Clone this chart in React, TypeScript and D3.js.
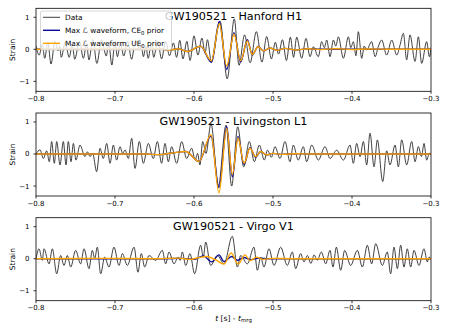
import React, { useEffect, useRef } from "react";
import * as d3 from "d3";

type Pt = [number, number];

// whitened strain as [t - t_mrg (s), strain]
const h1Data: Pt[] = [
  [-0.8, 0.1], [-0.796, -0.18], [-0.792, 0.15], [-0.789, -0.28], [-0.785, 0.22], [-0.781, -0.46],
  [-0.776, 0.25], [-0.772, -0.05], [-0.77, 0.1], [-0.768, -0.25], [-0.763, 0.22], [-0.758, -0.25],
  [-0.754, 0.15], [-0.751, -0.31], [-0.745, 0.25], [-0.74, -0.28], [-0.736, 0.18], [-0.733, -0.33],
  [-0.728, 0.3], [-0.723, -0.44], [-0.717, 0.3], [-0.711, -0.21], [-0.708, 0.2], [-0.704, -0.49],
  [-0.7, 0.25], [-0.697, -0.23], [-0.693, 0.2], [-0.689, -0.21], [-0.684, 0.25], [-0.679, -0.31],
  [-0.674, 0.28], [-0.669, 0.0], [-0.667, 0.15], [-0.664, -0.23], [-0.661, 0.1], [-0.658, -0.28],
  [-0.654, 0.2], [-0.651, -0.25], [-0.646, 0.25], [-0.641, -0.3], [-0.636, 0.25], [-0.631, -0.2],
  [-0.626, 0.2], [-0.622, -0.25], [-0.618, 0.28], [-0.614, -0.3], [-0.609, 0.25], [-0.605, -0.35],
  [-0.6, 0.42], [-0.595, -0.18], [-0.59, 0.35], [-0.586, -0.12], [-0.583, 0.3], [-0.578, -0.4],
  [-0.567, 0.88], [-0.558, -0.92], [-0.549, 0.95], [-0.543, -0.5], [-0.536, 0.45], [-0.529, -0.42],
  [-0.521, 0.55], [-0.514, -0.4], [-0.508, 0.4], [-0.502, -0.3], [-0.497, 0.22], [-0.493, -0.15],
  [-0.488, 0.3], [-0.483, -0.35], [-0.478, 0.38], [-0.474, -0.25], [-0.47, 0.38], [-0.4637, -0.28],
  [-0.4582, 0.34], [-0.4531, -0.23], [-0.4489, 0.08], [-0.4426, -0.23], [-0.4384, 0.24], [-0.435, 0.05],
  [-0.432, 0.29], [-0.4278, -0.23], [-0.4236, 0.29], [-0.4205, 0.1], [-0.4173, 0.39], [-0.4109, -0.28],
  [-0.4046, 0.39], [-0.4015, 0.05], [-0.3983, 0.24], [-0.395, -0.2], [-0.392, 0.55], [-0.3877, -0.28],
  [-0.3845, 0.1], [-0.3814, -0.02], [-0.3751, 0.24], [-0.3708, -0.23], [-0.3665, 0.1], [-0.3624, 0.29],
  [-0.3561, -0.18], [-0.3497, 0.29], [-0.3434, -0.18], [-0.339, 0.15], [-0.335, 0.5], [-0.3308, -0.33],
  [-0.3266, 0.45], [-0.3202, -0.38], [-0.316, 0.39], [-0.3118, -0.44], [-0.3055, 0.24], [-0.3021, -0.23],
  [-0.3, 0.05],
];

const l1Data: Pt[] = [
  [-0.8, 0.0], [-0.7949, 0.13], [-0.7907, -0.14], [-0.7865, 0.1], [-0.7831, -0.24], [-0.7802, 0.39],
  [-0.7768, -0.29], [-0.7738, 0.39], [-0.7696, -0.34], [-0.7654, 0.39], [-0.762, -0.34], [-0.7591, 0.39],
  [-0.7557, -0.24], [-0.7527, 0.33], [-0.7494, -0.19], [-0.7443, 0.28], [-0.738, -0.08], [-0.735, 0.07],
  [-0.7316, -0.08], [-0.7283, 0.02], [-0.7232, -0.55], [-0.719, 0.18], [-0.7148, -0.14], [-0.7105, 0.33],
  [-0.7063, -0.29], [-0.7021, 0.28], [-0.6979, -0.19], [-0.6937, 0.23], [-0.6903, 0.02], [-0.6873, 0.13],
  [-0.6831, -0.14], [-0.6789, 0.49], [-0.6747, -0.45], [-0.6692, 0.39], [-0.6641, -0.29], [-0.6578, 0.33],
  [-0.6515, -0.14], [-0.6464, 0.39], [-0.641, -0.29], [-0.6367, 0.33], [-0.6325, -0.24], [-0.6283, 0.23],
  [-0.6219, -0.29], [-0.6156, 0.39], [-0.6093, -0.14], [-0.603, 0.18], [-0.5985, -0.19], [-0.5955, 0.02],
  [-0.5925, -0.34], [-0.589, 0.39], [-0.5848, 0.02], [-0.5785, 0.95], [-0.5692, -1.0], [-0.5595, 0.9],
  [-0.5523, -1.0], [-0.5447, 0.85], [-0.5371, -0.4], [-0.53, 0.39], [-0.5236, -0.24], [-0.5173, 0.28],
  [-0.511, -0.19], [-0.507, 0.12], [-0.502, -0.1], [-0.4975, 0.23], [-0.4911, -0.14], [-0.4848, 0.39],
  [-0.4785, -0.24], [-0.4743, 0.28], [-0.468, -0.19], [-0.4616, 0.23], [-0.4574, -0.24], [-0.451, 0.28],
  [-0.4426, -0.19], [-0.4342, 0.23], [-0.4278, -0.14], [-0.4194, 0.12], [-0.4109, -0.19], [-0.4025, 0.28],
  [-0.3983, -0.29], [-0.3941, 0.33], [-0.3898, -0.08], [-0.3856, 0.39], [-0.3814, -0.34], [-0.3772, 0.65],
  [-0.3721, -0.4], [-0.3679, 0.44], [-0.3611, -0.86], [-0.3561, 0.1], [-0.3519, -0.34], [-0.3455, 0.28],
  [-0.3413, -0.4], [-0.3371, 0.44], [-0.3308, -0.34], [-0.3244, 0.39], [-0.3202, -0.24], [-0.316, 0.23],
  [-0.312, -0.08], [-0.3088, 0.33], [-0.3055, -0.19], [-0.3021, 0.02], [-0.3, 0.0],
];

const v1Data: Pt[] = [
  [-0.8, 0.0], [-0.7962, 0.31], [-0.792, -0.05], [-0.7899, 0.31], [-0.7835, -0.16], [-0.7793, 0.31],
  [-0.7738, -0.47], [-0.7688, 0.1], [-0.7646, -0.21], [-0.7603, 0.1], [-0.7561, -0.26], [-0.7498, 0.26],
  [-0.7435, -0.16], [-0.7392, 0.31], [-0.7329, -0.31], [-0.7287, 0.26], [-0.7257, 0.0], [-0.7224, 0.36],
  [-0.7181, -0.47], [-0.7131, 0.05], [-0.7076, -0.26], [-0.7013, 0.36], [-0.6949, -0.21], [-0.6907, 0.16],
  [-0.6844, -0.21], [-0.6759, 0.36], [-0.6709, -0.42], [-0.6667, 0.16], [-0.6624, -0.26], [-0.657, 0.1],
  [-0.6485, -0.05], [-0.6401, 0.26], [-0.6359, -0.16], [-0.6316, 0.21], [-0.6253, -0.16], [-0.62, 0.05],
  [-0.6175, -0.05], [-0.6148, 0.21], [-0.6105, -0.21], [-0.6051, 0.16], [-0.5992, -0.47], [-0.5916, 0.42],
  [-0.5882, 0.05], [-0.5852, 0.52], [-0.5789, -0.21], [-0.5705, 0.1], [-0.562, -0.16], [-0.5515, 0.7],
  [-0.5451, -0.26], [-0.5409, 0.1], [-0.5325, -0.16], [-0.5241, 0.36], [-0.5198, -0.36], [-0.5156, 0.05],
  [-0.5114, -0.26], [-0.5051, 0.31], [-0.4987, -0.21], [-0.4903, 0.36], [-0.4819, -0.21], [-0.4755, 0.21],
  [-0.4713, -0.31], [-0.465, 0.16], [-0.4608, -0.1], [-0.4565, 0.1], [-0.452, -0.15], [-0.448, 0.12],
  [-0.4439, -0.05], [-0.4388, 0.21], [-0.4333, -0.16], [-0.4278, 0.26], [-0.4241, -0.26], [-0.4198, 0.36],
  [-0.4143, -0.36], [-0.4093, 0.26], [-0.4017, -0.21], [-0.3932, 0.26], [-0.3869, -0.26], [-0.3806, 0.42],
  [-0.3751, -0.16], [-0.37, 0.47], [-0.3616, -0.21], [-0.3553, 0.21], [-0.3511, -0.47], [-0.3468, 0.36],
  [-0.3426, -0.31], [-0.3384, 0.42], [-0.3342, -0.26], [-0.33, 0.31], [-0.3257, -0.26], [-0.3215, 0.26],
  [-0.3152, -0.21], [-0.3089, 0.31], [-0.3046, -0.1], [-0.3025, 0.05], [-0.3, 0.0],
];

// max likelihood waveforms, CE0 prior (blue) and UE0 prior (orange)
const h1CE: Pt[] = [
  [-0.8, 0], [-0.7, 0], [-0.66, 0], [-0.645, 0.02], [-0.632, -0.03], [-0.62, 0.02], [-0.6084, -0.07],
  [-0.5916, 0.1], [-0.578, -0.4], [-0.5679, 0.87], [-0.5586, -0.63], [-0.5494, 0.52], [-0.5409, -0.4],
  [-0.5325, 0.3], [-0.5262, -0.18], [-0.519, 0.09], [-0.512, -0.05], [-0.504, 0.04], [-0.495, -0.03],
  [-0.485, 0.03], [-0.472, -0.02], [-0.455, 0.02], [-0.44, 0], [-0.3, 0],
];
const h1UE: Pt[] = [
  [-0.8, 0], [-0.7, 0.01], [-0.66, 0], [-0.645, 0.02], [-0.632, -0.03], [-0.62, 0.02], [-0.6084, -0.07],
  [-0.5916, 0.1], [-0.578, -0.36], [-0.5679, 0.8], [-0.5586, -0.52], [-0.5494, 0.47], [-0.5409, -0.36],
  [-0.5325, 0.26], [-0.5262, -0.16], [-0.519, 0.08], [-0.512, -0.05], [-0.504, 0.04], [-0.495, -0.03],
  [-0.485, 0.03], [-0.472, -0.02], [-0.455, 0.02], [-0.44, -0.01], [-0.42, 0.02], [-0.4, -0.01],
  [-0.38, 0.01], [-0.35, 0], [-0.3, 0],
];
const l1CE: Pt[] = [
  [-0.8, 0], [-0.7, 0], [-0.66, 0], [-0.645, -0.02], [-0.628, 0.03], [-0.6105, 0.08], [-0.5937, -0.23],
  [-0.5785, 0.56], [-0.5684, -1.05], [-0.5586, 0.86], [-0.5515, -0.71], [-0.5443, 0.55], [-0.5367, -0.33],
  [-0.5291, 0.2], [-0.522, -0.1], [-0.5156, 0.08], [-0.508, -0.03], [-0.5, 0.02], [-0.49, -0.01],
  [-0.47, 0.01], [-0.45, 0], [-0.3, 0],
];
const l1UE: Pt[] = [
  [-0.8, 0], [-0.7, 0], [-0.66, 0], [-0.645, -0.02], [-0.628, 0.03], [-0.6105, 0.08], [-0.5937, -0.23],
  [-0.5785, 0.6], [-0.5684, -1.21], [-0.5586, 0.8], [-0.5515, -0.64], [-0.5443, 0.5], [-0.5367, -0.29],
  [-0.5291, 0.18], [-0.522, -0.08], [-0.5156, 0.08], [-0.508, -0.03], [-0.5, 0.02], [-0.49, -0.01],
  [-0.47, 0.01], [-0.45, 0], [-0.3, 0],
];
const v1CE: Pt[] = [
  [-0.8, 0], [-0.64, 0], [-0.615, 0.01], [-0.6, -0.02], [-0.5882, 0.09], [-0.5776, -0.1], [-0.5684, 0.12],
  [-0.562, -0.09], [-0.5523, 0.07], [-0.545, -0.05], [-0.537, 0.04], [-0.528, -0.03], [-0.518, 0.02],
  [-0.505, 0], [-0.3, 0],
];
const v1UE: Pt[] = [
  [-0.8, 0], [-0.72, 0.01], [-0.65, 0], [-0.62, 0.02], [-0.605, -0.02], [-0.595, 0.03], [-0.584, 0.07],
  [-0.573, -0.03], [-0.562, -0.17], [-0.553, 0.18], [-0.544, -0.17], [-0.5355, 0.12], [-0.529, -0.06],
  [-0.521, 0.05], [-0.513, -0.02], [-0.5, 0.01], [-0.48, 0], [-0.3, 0],
];

const titles = ["GW190521 - Hanford H1", "GW190521 - Livingston L1", "GW190521 - Virgo V1"];
const xTicks = [-0.8, -0.7, -0.6, -0.5, -0.4, -0.3];
const yTicks = [-1, 0, 1];

const panels = [
  { title: titles[0], data: h1Data, ce: h1CE, ue: h1UE },
  { title: titles[1], data: l1Data, ce: l1CE, ue: l1UE },
  { title: titles[2], data: v1Data, ce: v1CE, ue: v1UE },
];

const font = "DejaVu Sans, sans-serif";
const BLUE = "#0a0a96";
const ORANGE = "#ffa500";

const App = () => {
  const ref = useRef<SVGSVGElement>(null);

  useEffect(() => {
    const svg = d3.select(ref.current);
    svg.selectAll("*").remove();

    const left = 36, right = 431, h = 83;
    const x = d3.scaleLinear().domain([-0.8, -0.3]).range([left, right]);
    const fmt = d3.format(".1f");

    panels.forEach((p, i) => {
      const top = 8.3 + i * 104.7;
      const y = d3.scaleLinear().domain([-1.31, 1.28]).range([top + h, top]);
      const g = svg.append("g");

      g.append("clipPath").attr("id", "clip" + i)
        .append("rect").attr("x", left).attr("y", top).attr("width", right - left).attr("height", h);

      const line = d3.line<Pt>().x(d => x(d[0])).y(d => y(d[1])).curve(d3.curveMonotoneX);
      const lines = g.append("g").attr("clip-path", `url(#clip${i})`);
      lines.append("path").attr("d", line(p.data)).attr("fill", "none")
        .attr("stroke", "#2b2b2b").attr("stroke-width", 0.9);
      lines.append("path").attr("d", line(p.ce)).attr("fill", "none")
        .attr("stroke", BLUE).attr("stroke-width", 1.4);
      lines.append("path").attr("d", line(p.ue)).attr("fill", "none")
        .attr("stroke", ORANGE).attr("stroke-width", 1.4);

      // frame
      g.append("rect").attr("x", left).attr("y", top).attr("width", right - left).attr("height", h)
        .attr("fill", "none").attr("stroke", "#000").attr("stroke-width", 0.8);

      // x ticks
      xTicks.forEach(t => {
        g.append("line").attr("x1", x(t)).attr("x2", x(t)).attr("y1", top + h).attr("y2", top + h + 2.5)
          .attr("stroke", "#000").attr("stroke-width", 0.8);
        g.append("text").attr("x", x(t)).attr("y", top + h + 9.5).attr("text-anchor", "middle")
          .style("font-family", font).style("font-size", "7px").text(fmt(t));
      });
      // y ticks
      yTicks.forEach(v => {
        g.append("line").attr("x1", left - 2.5).attr("x2", left).attr("y1", y(v)).attr("y2", y(v))
          .attr("stroke", "#000").attr("stroke-width", 0.8);
        g.append("text").attr("x", 29.5).attr("y", y(v)).attr("dy", "0.35em").attr("text-anchor", "end")
          .style("font-family", font).style("font-size", "7px").text(d3.format("d")(v));
      });

      g.append("text").attr("transform", `translate(15,${top + h / 2}) rotate(-90)`)
        .attr("text-anchor", "middle").style("font-family", font).style("font-size", "7.5px").text("Strain");

      g.append("text").attr("x", (left + right) / 2).attr("y", top + 12).attr("text-anchor", "middle")
        .style("font-family", font).style("font-size", "11.2px").text(p.title);
    });

    // legend (top panel)
    const lg = svg.append("g");
    lg.append("rect").attr("x", 40.5).attr("y", 11).attr("width", 131).attr("height", 39).attr("rx", 2)
      .attr("fill", "#fff").attr("fill-opacity", 0.8).attr("stroke", "#ccc").attr("stroke-width", 0.8);
    const items = [
      { color: "#2b2b2b", w: 0.9, label: "Data", sub: "" },
      { color: BLUE, w: 1.4, label: "Max \u2112 waveform, CE", sub: "0" },
      { color: ORANGE, w: 1.4, label: "Max \u2112 waveform, UE", sub: "0" },
    ];
    items.forEach((it, k) => {
      const cy = 17.3 + k * 13;
      lg.append("line").attr("x1", 43).attr("x2", 60).attr("y1", cy).attr("y2", cy)
        .attr("stroke", it.color).attr("stroke-width", it.w);
      const t = lg.append("text").attr("x", 65).attr("y", cy).attr("dy", "0.35em")
        .style("font-family", font).style("font-size", "7.35px");
      t.append("tspan").text(it.label);
      if (it.sub) {
        t.append("tspan").attr("dy", 1.7).style("font-size", "5.3px").text(it.sub);
        t.append("tspan").attr("dy", -1.7).text(" prior");
      }
    });

    // x label
    const xl = svg.append("text").attr("x", 233.5).attr("y", 320.5).attr("text-anchor", "middle")
      .style("font-family", font).style("font-size", "7.6px");
    xl.append("tspan").style("font-style", "italic").text("t");
    xl.append("tspan").text(" [s] - ");
    xl.append("tspan").style("font-style", "italic").text("t");
    xl.append("tspan").attr("dy", 1.8).style("font-size", "5.4px").text("mrg");
  }, []);

  return (
    <svg ref={ref} width={449} height={336}
      style={{ position: "absolute", left: 0, top: 0, background: "#fff" }} />
  );
};

export default App;
